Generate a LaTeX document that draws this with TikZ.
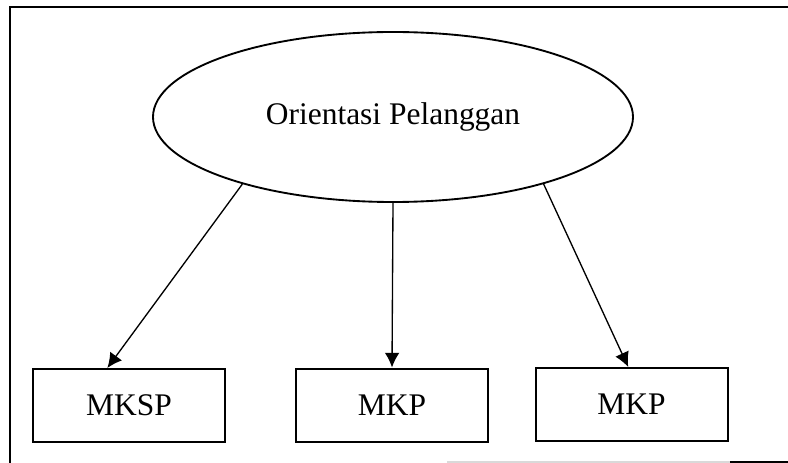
\documentclass[tikz,border=0pt]{standalone}
\usepackage{fontspec}
\setmainfont{Liberation Serif}
\usetikzlibrary{shapes.geometric, arrows.meta}

\begin{document}
\begin{tikzpicture}[x=0.75pt, y=-0.75pt,
        box/.style={draw, line width=1.5pt, minimum width=144pt, minimum height=54.75pt, inner sep=0pt},
        arr/.style={-{Latex[length=11pt, width=11pt]}, line width=1pt},
        font=\fontsize{23.6}{28}\selectfont]
                \useasboundingbox (0,0) rectangle (788,463);
                \draw[line width=1.6pt] (10,463) -- (10,7) -- (788,7);
                \draw[black!15, line width=1pt] (447,462) -- (730,462);
                \draw[line width=1.2pt] (730,462) -- (788,462);
                \node[ellipse, draw, line width=1.4pt, minimum width=360pt, minimum height=127.5pt, inner sep=0pt] (orient) at (393,117) {Orientasi Pelanggan};
                \node[box] (mksp) at (129,405.5) {MKSP};
                \node[box] (mkpa) at (392,405) {MKP};
                \node[box] (mkpb) at (631.5,404.5) {MKP};
                \draw[arr] (orient.204) -- (mksp.120);
                \draw[arr] (orient.south) -- (mkpa.north);
                \draw[arr] (orient.336.5) -- (mkpb.95);
            \end{tikzpicture}
\end{document}
